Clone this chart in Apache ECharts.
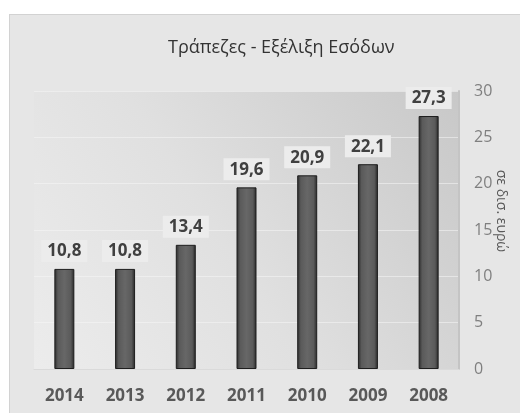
<!DOCTYPE html>
<html>
<head>
<meta charset="utf-8">
<script src="https://cdn.jsdelivr.net/npm/echarts@6/dist/echarts.min.js"></script>
<style>
  html, body { margin: 0; padding: 0; background: #ffffff; width: 520px; height: 413px; overflow: hidden; }
  #chart { position: absolute; left: 9px; top: 14px; right: 0; bottom: 0;
           border-left: 1px solid #d2d2d2; border-top: 1px solid #d2d2d2; }
</style>
</head>
<body>
<div id="chart"></div>
<script>
// Annual revenue of banks, billions of euro
const years = ['2014', '2013', '2012', '2011', '2010', '2009', '2008'];
const revenue = [10.8, 10.8, 13.4, 19.6, 20.9, 22.1, 27.3];
const titleText = 'Τράπεζες - Εξέλιξη Εσόδων';
const unitText = 'σε δισ. ευρώ';

const FONT = '"Open Sans", "Noto Sans", sans-serif';
const chart = echarts.init(document.getElementById('chart'), null, { renderer: 'canvas' });

chart.setOption({
  backgroundColor: '#e6e6e6',
  animation: false,
  title: {
    text: titleText,
    left: 153,
    top: 19,
    textStyle: { fontFamily: FONT, fontSize: 18, fontWeight: 'normal', color: '#333333' }
  },
  grid: {
    left: 24, right: 61, top: 76, bottom: 44,
    show: true,
    borderWidth: 0,
    backgroundColor: new echarts.graphic.LinearGradient(1, 0, 0, 1, [
      { offset: 0, color: '#c8c8c8' },
      { offset: 0.55, color: '#e0e0e0' },
      { offset: 1, color: '#ececec' }
    ])
  },
  xAxis: {
    type: 'category',
    data: years,
    axisLine: { show: true, lineStyle: { color: '#dadada', width: 1 } },
    axisTick: { show: false },
    axisLabel: { fontFamily: FONT, fontSize: 17, fontWeight: 'bold', color: '#595959', margin: 19 }
  },
  yAxis: {
    type: 'value',
    position: 'right',
    min: 0, max: 30, interval: 5,
    axisLine: { show: true, lineStyle: { color: '#c4c4c4', width: 2 } },
    axisTick: { show: false },
    axisLabel: { fontFamily: FONT, fontSize: 16, color: '#7f7f7f', margin: 15 },
    splitLine: { show: true, lineStyle: { color: 'rgba(245,245,245,0.55)', width: 1 } }
  },
  graphic: [{
    type: 'text',
    x: 491,
    y: 196,
    rotation: -Math.PI / 2,
    style: {
      text: unitText,
      font: '14px ' + FONT,
      fill: '#595959',
      align: 'center',
      verticalAlign: 'middle'
    }
  }],
  series: [{
    type: 'bar',
    data: revenue,
    barWidth: 20,
    itemStyle: {
      color: new echarts.graphic.LinearGradient(0, 0, 1, 0, [
        { offset: 0, color: '#2a2a2a' },
        { offset: 0.18, color: '#5a5a5a' },
        { offset: 0.5, color: '#676767' },
        { offset: 0.82, color: '#5a5a5a' },
        { offset: 1, color: '#262626' }
      ]),
      borderColor: '#1e1e1e',
      borderWidth: 1
    },
    label: {
      show: true,
      position: 'top',
      distance: 7,
      formatter: p => p.value.toFixed(1).replace('.', ','),
      fontFamily: FONT,
      fontSize: 17,
      fontWeight: 'bold',
      color: '#404040',
      backgroundColor: '#ececec',
      padding: [3, 6, 2, 6]
    }
  }]
});
</script>
</body>
</html>
